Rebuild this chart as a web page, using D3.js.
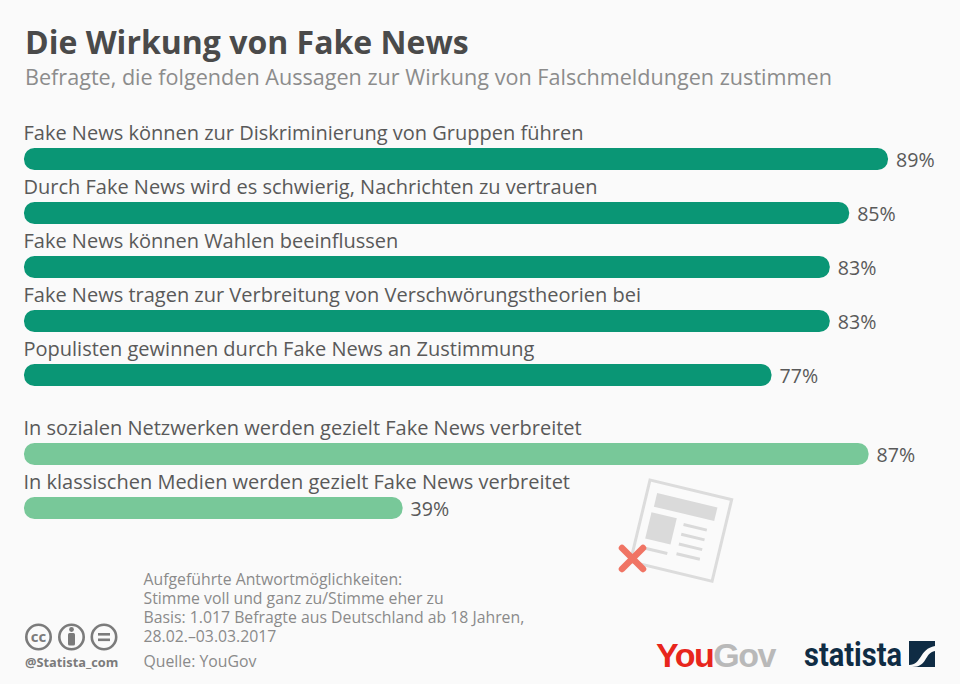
<!DOCTYPE html>
<html lang="de">
<head>
<meta charset="utf-8">
<script src="https://cdn.jsdelivr.net/npm/d3@7"></script>
<style>
  html, body { margin: 0; padding: 0; background: #fafafa; }
  svg { display: block; font-family: "Open Sans", sans-serif; }
</style>
</head>
<body>
<svg id="chart" width="960" height="684"></svg>
<script>
// Data.
const strongLabels = [
  "Fake News können zur Diskriminierung von Gruppen führen",
  "Durch Fake News wird es schwierig, Nachrichten zu vertrauen",
  "Fake News können Wahlen beeinflussen",
  "Fake News tragen zur Verbreitung von Verschwörungstheorien bei",
  "Populisten gewinnen durch Fake News an Zustimmung"
];
const strongValues = [89, 85, 83, 83, 77];
const mediaLabels = [
  "In sozialen Netzwerken werden gezielt Fake News verbreitet",
  "In klassischen Medien werden gezielt Fake News verbreitet"
];
const mediaValues = [87, 39];
const noteLines = [
  "Aufgeführte Antwortmöglichkeiten:",
  "Stimme voll und ganz zu/Stimme eher zu",
  "Basis: 1.017 Befragte aus Deutschland ab 18 Jahren,",
  "28.02.–03.03.2017"
];

const svg = d3.select("#chart");

// Shared horizontal scale: 89% ends at x = 888.
const x = d3.scaleLinear().domain([0, 89]).range([24, 888]);

function drawGroup(labels, values, top, color) {
  const y = d3.scaleBand()
    .domain(labels)
    .range([top, top + (labels.length - 1) * 54 + 22])
    .paddingInner(32 / 54);

  const g = svg.append("g");
  const rows = g.selectAll("g").data(labels).enter().append("g");

  rows.append("rect")
    .attr("x", x(0))
    .attr("y", (d) => y(d))
    .attr("width", (d, i) => x(values[i]) - x(0))
    .attr("height", y.bandwidth())
    .attr("rx", 10.5)
    .attr("fill", color);

  rows.append("text")
    .attr("x", 23.5)
    .attr("y", (d) => y(d) - 8)
    .attr("font-size", 20)
    .attr("fill", "#595959")
    .text((d) => d);

  rows.append("text")
    .attr("x", (d, i) => x(values[i]) + 8)
    .attr("y", (d) => y(d) + 18.5)
    .attr("font-size", 19.6)
    .attr("fill", "#595959")
    .text((d, i) => `${values[i]}%`);
}

drawGroup(strongLabels, strongValues, 148, "#0a9675");
drawGroup(mediaLabels, mediaValues, 443, "#78c899");

// Title block.
svg.append("text").attr("x", 25).attr("y", 54)
  .attr("font-size", 32).attr("font-weight", 700).attr("fill", "#4a4a4a")
  .text("Die Wirkung von Fake News");
svg.append("text").attr("x", 25).attr("y", 85)
  .attr("font-size", 21.6).attr("fill", "#8c8c8c")
  .text("Befragte, die folgenden Aussagen zur Wirkung von Falschmeldungen zustimmen");

// Newspaper icon.
const paper = svg.append("g").attr("transform", "translate(650,480) rotate(13.5)");
paper.append("rect").attr("x", 0).attr("y", 0).attr("width", 84).attr("height", 84)
  .attr("fill", "none").attr("stroke", "#dcdcdc").attr("stroke-width", 3);
paper.append("rect").attr("x", 10).attr("y", 11).attr("width", 62).attr("height", 14).attr("fill", "#dadada");
paper.append("rect").attr("x", 9).attr("y", 31).attr("width", 26).attr("height", 27).attr("fill", "#dadada");
[36, 46, 56, 66].forEach((ly) => {
  paper.append("rect").attr("x", 43).attr("y", ly - 2).attr("width", 24).attr("height", 3).attr("fill", "#dadada");
});
paper.append("rect").attr("x", 10).attr("y", 66).attr("width", 24).attr("height", 3).attr("fill", "#dadada");
svg.append("path").attr("d", "M622,548L643,569M643,548L622,569")
  .attr("stroke", "#f07464").attr("stroke-width", 6.5).attr("stroke-linecap", "round").attr("fill", "none");

// Footnote.
svg.append("g").selectAll("text").data(noteLines).enter().append("text")
  .attr("x", 143.5)
  .attr("y", (d, i) => 584.5 + i * 19)
  .attr("font-size", 15.8).attr("fill", "#8a8a8a")
  .text((d) => d);
svg.append("text").attr("x", 143.5).attr("y", 666.5)
  .attr("font-size", 15.8).attr("fill", "#8a8a8a").text("Quelle: YouGov");

// Licence icons.
const cc = svg.append("g").attr("fill", "none").attr("stroke", "#7b7b7b").attr("stroke-width", 2.6);
[38.5, 71.5, 104].forEach((cx) => cc.append("circle").attr("cx", cx).attr("cy", 637).attr("r", 12.2));
svg.append("text").attr("x", 38.5).attr("y", 642).attr("text-anchor", "middle")
  .attr("font-size", 15).attr("font-weight", 700).attr("fill", "#7b7b7b").text("cc");
svg.append("circle").attr("cx", 71.5).attr("cy", 629.5).attr("r", 2.4).attr("fill", "#7b7b7b");
svg.append("rect").attr("x", 68).attr("y", 633).attr("width", 7).attr("height", 12.5).attr("rx", 1.5).attr("fill", "#7b7b7b");
svg.append("rect").attr("x", 98).attr("y", 633).attr("width", 12).attr("height", 2.6).attr("fill", "#7b7b7b");
svg.append("rect").attr("x", 98).attr("y", 638.5).attr("width", 12).attr("height", 2.6).attr("fill", "#7b7b7b");
svg.append("text").attr("x", 25).attr("y", 667)
  .attr("font-size", 12.8).attr("font-weight", 700).attr("fill", "#7b7b7b").text("@Statista_com");

// Logos.
const yougov = svg.append("text").attr("x", 656).attr("y", 667)
  .attr("font-family", "Liberation Sans").attr("font-size", 34).attr("font-weight", 700)
  .attr("letter-spacing", -1.5);
yougov.append("tspan").attr("fill", "#e8261c").text("You");
yougov.append("tspan").attr("fill", "#b9b9b9").text("Gov");

svg.append("text").attr("x", 804).attr("y", 666)
  .attr("font-family", "Roboto").attr("font-size", 34).attr("font-weight", 700)
  .attr("fill", "#0f2c44").attr("textLength", 98).attr("lengthAdjust", "spacingAndGlyphs")
  .text("statista");
svg.append("rect").attr("x", 909).attr("y", 641).attr("width", 26).attr("height", 26).attr("fill", "#0f2c44");
svg.append("path").attr("d", "M909,665C922,665 919,649 935,646L935,651C924,653 928,667 912,667L909,667Z").attr("fill", "#fafafa");
</script>
</body>
</html>
